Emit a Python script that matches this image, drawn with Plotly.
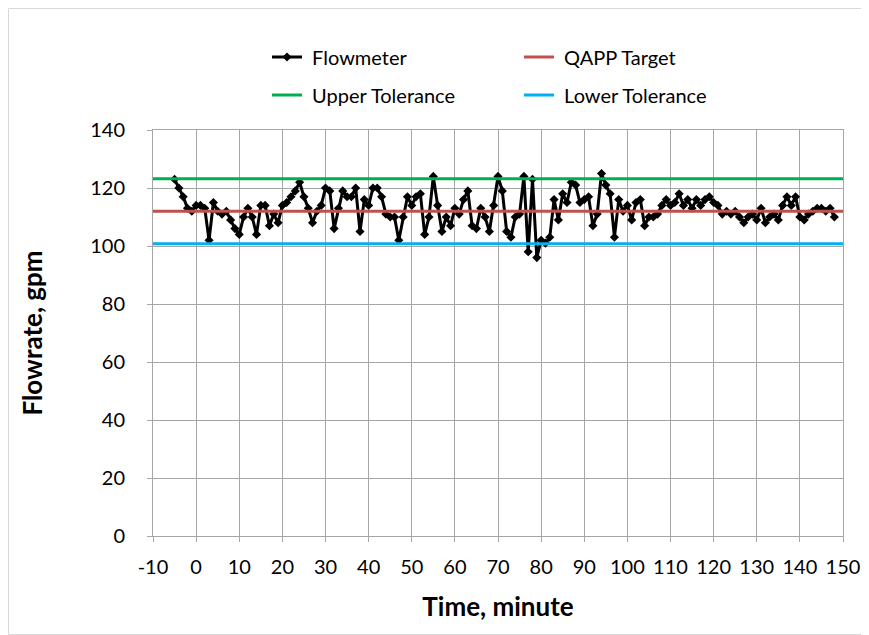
import plotly.graph_objects as go

time_min = list(range(-5, 149))
flow_gpm = [123, 120, 117, 113, 112,
            114, 114, 113, 102, 115, 112, 111, 112, 109, 106,
            104, 110, 113, 110, 104, 114, 114, 107, 111, 108,
            114, 115, 117, 119, 122, 117, 113, 108, 112, 114,
            120, 119, 106, 113, 119, 117, 117, 120, 105, 116,
            114, 120, 120, 117, 111, 110, 110, 102, 110, 117,
            114, 117, 118, 104, 110, 124, 114, 105, 110, 107,
            113, 111, 116, 119, 107, 106, 113, 110, 105, 114,
            124, 119, 105, 103, 110, 111, 124, 98, 123, 96,
            102, 101, 103, 116, 109, 118, 115, 122, 121, 115,
            116, 117, 107, 111, 125, 121, 118, 103, 116, 112,
            114, 109, 115, 116, 107, 110, 110, 111, 114, 116,
            114, 115, 118, 114, 116, 113, 116, 114, 116, 117,
            115, 114, 111, 112, 111, 112, 110, 108, 110, 111,
            109, 113, 108, 110, 111, 109, 114, 117, 114, 117,
            110, 109, 111, 112, 113, 113, 112, 113, 110]
flow_gpm = flow_gpm[:len(time_min)]

ref_x = [-10, 150]
qapp_target = [112, 112]
upper_tol = [123.2, 123.2]
lower_tol = [100.8, 100.8]

x_ticks = list(range(-10, 151, 10))
x_tick_labels = [str(v) for v in x_ticks]
y_ticks = list(range(0, 141, 20))
y_tick_labels = [str(v) for v in y_ticks]

font_family = "Lato, 'Open Sans', sans-serif"

W, H = 854, 627
ML, MR, MT, MB = 145, 19, 122, 99
PW, PH = W - ML - MR, H - MT - MB

fig = go.Figure()
fig.add_trace(go.Scatter(
    x=time_min, y=flow_gpm, mode="lines+markers", name=" Flowmeter",
    line=dict(color="black", width=3),
    marker=dict(symbol="diamond", size=7, color="black"),
    legend="legend"))
fig.add_trace(go.Scatter(
    x=ref_x, y=qapp_target, mode="lines", name=" QAPP Target",
    line=dict(color="#c0504d", width=3), legend="legend"))
fig.add_trace(go.Scatter(
    x=ref_x, y=upper_tol, mode="lines", name=" Upper Tolerance",
    line=dict(color="#00b050", width=3), legend="legend2"))
fig.add_trace(go.Scatter(
    x=ref_x, y=lower_tol, mode="lines", name=" Lower Tolerance",
    line=dict(color="#00b0f0", width=3), legend="legend2"))

legend_common = dict(
    orientation="h", xref="container", yref="container",
    xanchor="left", yanchor="middle",
    entrywidthmode="pixels", entrywidth=207,
    font=dict(family=font_family, size=20, color="black"),
    bgcolor="rgba(0,0,0,0)", traceorder="normal",
)

fig.update_layout(
    width=W, height=H,
    margin=dict(l=ML, r=MR, t=MT, b=MB, autoexpand=False),
    paper_bgcolor="white", plot_bgcolor="white",
    font=dict(family=font_family, size=20, color="black"),
    showlegend=True,
    legend=dict(x=259 / W, y=1 - 49 / H, **legend_common),
    legend2=dict(x=259 / W, y=1 - 87 / H, **legend_common),
    xaxis=dict(
        range=[-10, 150], tickmode="array", tickvals=x_ticks, ticktext=x_tick_labels,
        showgrid=True, gridcolor="#a6a6a6", gridwidth=1,
        showline=True, linecolor="#a6a6a6", linewidth=1, mirror=True,
        ticks="outside", ticklen=5, tickcolor="#a6a6a6",
        ticklabelstandoff=8,
        zeroline=False,
        tickfont=dict(size=20),
        title=dict(text="<b>Time, minute</b>", font=dict(size=26), standoff=20),
    ),
    yaxis=dict(
        range=[0, 140], tickmode="array", tickvals=y_ticks, ticktext=y_tick_labels,
        showgrid=True, gridcolor="#a6a6a6", gridwidth=1,
        showline=True, linecolor="#a6a6a6", linewidth=1, mirror=True,
        ticks="outside", ticklen=5, tickcolor="#a6a6a6",
        ticklabelstandoff=18,
        zeroline=False,
        tickfont=dict(size=20),
        title=dict(text="<b>Flowrate, gpm</b>", font=dict(size=26), standoff=40),
    ),
    shapes=[dict(
        type="rect", xref="paper", yref="paper",
        x0=(0.5 - ML) / PW, x1=(W - 0.5 - ML) / PW,
        y0=(H - MB - (H - 0.5)) / PH, y1=(H - MB - 0.5) / PH,
        line=dict(color="#d9d9d9", width=1), layer="below")],
)

fig.write_html("out.html")
